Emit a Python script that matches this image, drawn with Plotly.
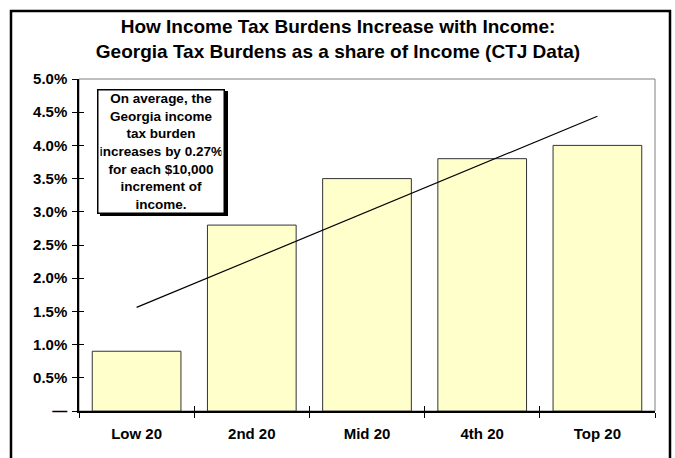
import plotly.graph_objects as go

categories = ["Low 20", "2nd 20", "Mid 20", "4th 20", "Top 20"]
burden_pct = [0.9, 2.8, 3.5, 3.8, 4.0]
trend_x = ["Low 20", "Top 20"]
trend_pct = [1.56, 4.44]
ytick_vals = [0, 0.5, 1.0, 1.5, 2.0, 2.5, 3.0, 3.5, 4.0, 4.5, 5.0]
ytick_text = ["—", "0.5%", "1.0%", "1.5%", "2.0%", "2.5%", "3.0%", "3.5%", "4.0%", "4.5%", "5.0%"]
title_text = ("<b>How Income Tax Burdens Increase with Income:<br>"
              "Georgia Tax Burdens as a share of Income (CTJ Data)</b>")
note_text = ("<b>On average, the<br>Georgia income<br>tax burden<br>increases by 0.27%<br>"
             "for each $10,000<br>increment of<br>income.</b>")

FONT = "Arial, Liberation Sans, sans-serif"

fig = go.Figure()
fig.add_trace(go.Bar(
    x=categories, y=burden_pct,
    marker=dict(color="#FFFFCC", line=dict(color="#333333", width=1)),
    width=0.77, showlegend=False, hoverinfo="x+y",
))
fig.add_trace(go.Scatter(
    x=trend_x, y=trend_pct, mode="lines",
    line=dict(color="black", width=1.2), showlegend=False,
))
# invisible trace on overlay axis for crossing ticks
fig.add_trace(go.Scatter(x=categories, y=burden_pct, mode="none", xaxis="x2", yaxis="y2",
                         showlegend=False, hoverinfo="skip"))

W, H = 675, 458
L, R, T, B = 79, 20, 79, 47
pw, ph = W - L - R, H - T - B

def px2x(px):
    return (px - L) / pw

def py2y(py):
    return (H - B - py) / ph

fig.update_layout(
    width=W, height=H,
    margin=dict(l=L, r=R, t=T, b=B),
    paper_bgcolor="white", plot_bgcolor="white",
    font=dict(family=FONT, size=12, color="black"),
    title=dict(text=title_text, x=338 / W, xanchor="center", y=1 - 33 / H, yanchor="middle",
               font=dict(family=FONT, size=19, color="black")),
    bargap=0.23,
    xaxis=dict(type="category", showline=True, linecolor="black", linewidth=1.5,
               ticks="outside", ticklen=5, tickcolor="black", tickson="boundaries",
               tickfont=dict(family=FONT, size=15, color="black", weight="bold"),
               showgrid=False, zeroline=False, range=[-0.5, 4.5], ticklabelstandoff=8),
    yaxis=dict(range=[0, 5.0], tickvals=ytick_vals, ticktext=ytick_text,
               showline=True, linecolor="black", linewidth=1.5,
               ticks="outside", ticklen=5, tickcolor="black",
               tickfont=dict(family=FONT, size=15, color="black", weight="bold"),
               showgrid=False, zeroline=False, ticklabelstandoff=2),
    xaxis2=dict(type="category", overlaying="x", matches="x", ticks="inside", ticklen=5,
                tickcolor="black", tickson="boundaries", showticklabels=False,
                showgrid=False, zeroline=False, showline=False, side="bottom"),
    yaxis2=dict(overlaying="y", matches="y", ticks="inside", ticklen=5, tickcolor="black",
                tickvals=ytick_vals, showticklabels=False, showgrid=False, zeroline=False,
                showline=False, side="left"),
    shapes=[
        # plot-area frame (gray top/right)
        dict(type="rect", xref="x domain", yref="y domain", x0=0, x1=1, y0=0, y1=1,
             line=dict(color="#808080", width=1), layer="below"),
        # outer chart border
        dict(type="rect", xref="paper", yref="paper", x0=px2x(11), x1=px2x(670),
             y0=py2y(480), y1=py2y(11), line=dict(color="black", width=2.5)),
        # note box shadow
        dict(type="rect", xref="paper", yref="paper", x0=px2x(100), x1=px2x(228),
             y0=py2y(216), y1=py2y(91), fillcolor="black", line=dict(width=0)),
    ],
    annotations=[
        dict(text=note_text, xref="paper", yref="paper", x=px2x(161), y=py2y(151),
             xanchor="center", yanchor="middle", showarrow=False, align="center",
             font=dict(family=FONT, size=13.5, color="black"),
             bgcolor="white", bordercolor="black", borderwidth=1.5, borderpad=2,
             width=121, height=118),
    ],
)

fig.write_html("out.html", config={"displayModeBar": False},
               post_script="document.body.style.margin='0';")
